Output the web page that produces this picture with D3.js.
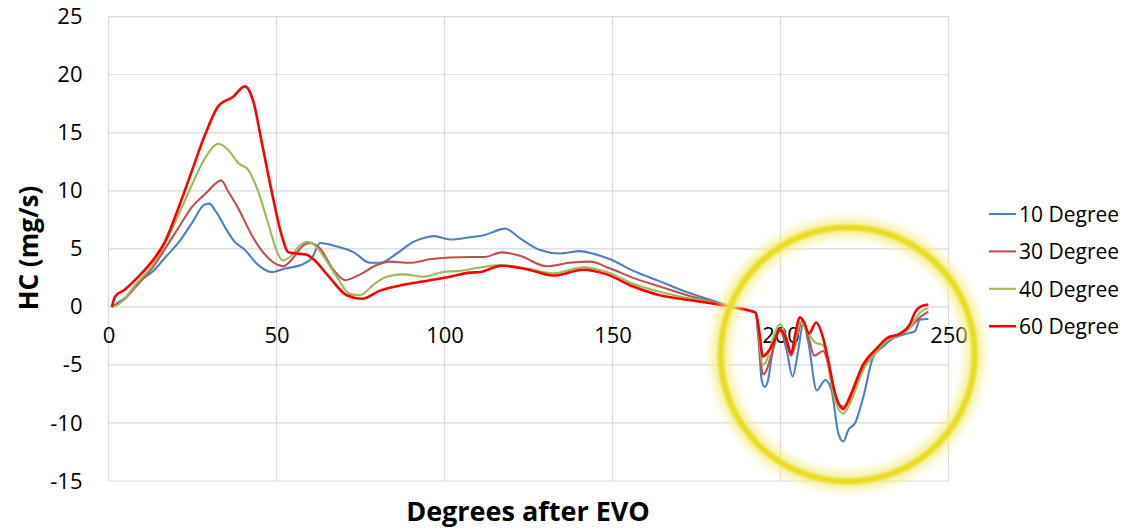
<!DOCTYPE html>
<html>
<head>
<meta charset="utf-8">
<script src="https://cdn.jsdelivr.net/npm/d3@7"></script>
<style>
  html, body { margin: 0; padding: 0; background: #fff; }
  svg text { font-family: "Open Sans", "DejaVu Sans", sans-serif; fill: #000; }
</style>
</head>
<body>
<div id="chart"></div>
<script>
/* data: [degrees after EVO, HC mg/s] */
const seriesNames = ["10 Degree", "30 Degree", "40 Degree", "60 Degree"];
const seriesColors = ["#4f81bd", "#c0504d", "#9bbb59", "#ff0000"];

const deg10 = [[1,0],[3,0.4],[5,0.8],[9,2.2],[13,3.0],[17,4.3],[21,5.6],[25,7.3],[28.5,8.8],[30,8.9],[32,8.2],[35,6.7],
  [37.6,5.6],[40.6,4.9],[44.6,3.6],[48.5,3.0],[52.5,3.3],[58,3.7],[60.5,4.2],[63,5.5],[68,5.2],[73,4.7],[77.8,3.8],
  [80.8,3.8],[85.8,4.6],[90.7,5.6],[94.7,6.0],[97,6.1],[101.6,5.8],[107.6,6.0],[112,6.2],[117,6.7],[118,6.75],
  [122.5,5.9],[128.4,4.9],[134.4,4.6],[140.3,4.8],[144,4.6],[149.3,4.1],[156.2,3.1],[164.1,2.2],[170,1.5],[176,0.9],
  [186,0.0],[192.5,-0.5],[193.5,-3.0],[194.4,-6.3],[195.3,-6.9],[196.3,-6.3],[197.4,-4.3],[199.9,-2.0],[201.8,-3.7],
  [203.6,-6.0],[205.3,-3.7],[206.8,-1.4],[208.3,-3.1],[210.8,-7.2],[213.3,-6.3],[215.2,-7.2],[217.2,-10.9],
  [218.7,-11.6],[220.2,-10.6],[222.2,-10.0],[224.7,-7.7],[227.6,-4.3],[230.6,-3.4],[233.6,-2.7],[237.6,-2.3],
  [240,-2.1],[241.5,-1.1],[244,-1.05]];

const deg30 = [[1,0],[3.9,0.45],[8.9,2.0],[12.9,3.3],[16.8,5.0],[20.8,6.8],[24.8,8.6],[28.7,9.7],[32.7,10.8],
  [33.5,10.9],[35.7,9.9],[38.6,8.5],[42.6,6.2],[46.6,4.5],[50.5,3.6],[52,3.5],[54,3.9],[58,5.3],[60,5.5],[62.9,5.05],
  [66.9,3.2],[70.4,2.3],[74.9,2.8],[79.8,3.6],[83.8,3.9],[89.7,3.8],[95.7,4.1],[101.6,4.25],[107.6,4.3],[112,4.3],
  [117,4.7],[122.5,4.4],[130.4,3.5],[137.2,3.8],[143.3,3.9],[149.3,3.3],[156.2,2.5],[164.1,1.75],[170,1.2],[176,0.7],
  [186,0.0],[192.6,-0.5],[193.8,-3.5],[194.7,-5.8],[195.6,-5.6],[197.4,-4.0],[199.9,-1.9],[201.5,-2.8],[203.2,-4.2],
  [205,-2.5],[206.5,-1.2],[208.5,-2.8],[210,-4.2],[212.7,-3.8],[213.8,-4.5],[215.7,-7.3],[218.7,-8.6],[220.7,-8.0],
  [224.7,-5.2],[228.6,-3.9],[231.6,-2.9],[235.6,-2.4],[238.5,-1.8],[241.5,-0.9],[244,-0.4]];

const deg40 = [[1,0],[2.9,0.2],[4.9,0.75],[8.9,2.2],[12.9,3.5],[16.8,5.5],[20.8,7.9],[24.8,10.5],[28.7,12.8],
  [32.7,14.05],[35.7,13.5],[38.6,12.4],[41.6,11.8],[44.6,9.9],[47.6,7.1],[50.1,4.8],[51.8,4.0],[54,4.3],[57,5.3],
  [59,5.6],[60.5,5.5],[62.9,4.8],[67.9,2.6],[71.9,1.1],[74.9,1.0],[78.8,1.9],[82.8,2.6],[87.7,2.8],[93.7,2.6],
  [99.6,3.0],[104.6,3.1],[110.6,3.4],[116.5,3.6],[124.5,3.3],[132.4,2.9],[141.3,3.4],[148.3,3.0],[156.2,2.0],
  [164.1,1.3],[170,0.9],[176,0.6],[186,0.0],[192.6,-0.5],[193.8,-3.0],[194.6,-5.0],[195.6,-4.8],[197.4,-3.0],
  [200,-1.5],[201.5,-2.5],[203.1,-3.9],[204.8,-2.3],[206,-1.3],[208.3,-2.3],[210.5,-3.1],[212.7,-3.3],[213.8,-4.2],
  [215.7,-7.4],[218.7,-9.2],[220.7,-8.3],[224.7,-5.4],[228.6,-3.9],[231.6,-2.9],[235.6,-2.4],[238.5,-1.8],
  [241.5,-0.5],[244,-0.1]];

const deg60 = [[1,0],[2,0.9],[4.9,1.5],[8.9,2.6],[12.9,3.9],[16.8,5.6],[20.8,8.5],[24.8,11.7],[28.7,14.8],
  [32.7,17.3],[37.1,18.1],[40.6,19.0],[43.1,17.7],[45.6,14.2],[48.6,9.9],[51.5,6.2],[53.5,4.7],[56,4.6],[59,4.5],
  [61,4.1],[65.9,2.5],[70.9,1.0],[75.4,0.7],[80.8,1.4],[87.7,1.9],[95.7,2.3],[101.6,2.6],[107.6,2.95],[110.6,3.0],
  [117,3.55],[124.5,3.25],[132.4,2.7],[141.3,3.2],[148.3,2.8],[156.2,1.75],[164.1,1.0],[170,0.7],[176,0.45],
  [186,-0.05],[192.6,-0.5],[193.9,-2.6],[194.7,-4.3],[195.9,-4.0],[197.4,-3.4],[199.9,-2.0],[201.5,-2.6],
  [203.2,-4.0],[204.5,-2.2],[205.7,-0.9],[207,-1.3],[208.5,-2.3],[210.6,-1.35],[212.7,-2.7],[214.2,-4.6],
  [216.2,-7.4],[218.7,-8.8],[220.7,-7.7],[224.7,-4.9],[228.6,-3.6],[231.6,-2.7],[235.6,-2.3],[238.5,-1.5],
  [240,-0.5],[241.5,0.0],[244,0.2]];

const allSeries = [deg10, deg30, deg40, deg60];

const xTicks = [0, 50, 100, 150, 200, 250];
const yTicks = [-15, -10, -5, 0, 5, 10, 15, 20, 25];

/* highlight ring around the 190-245 region (centre in data units) */
const ringCenter = [220, -4.1];

/* layout */
const width = 1129, height = 529;
const plot = { left: 108.5, right: 948.5, top: 16.7, bottom: 481 };

const svg = d3.select("#chart").append("svg")
  .attr("width", width)
  .attr("height", height)
  .attr("viewBox", `0 0 ${width} ${height}`);

svg.append("rect").attr("width", width).attr("height", height).attr("fill", "#fff");

const x = d3.scaleLinear().domain([0, 250]).range([plot.left, plot.right]);
const y = d3.scaleLinear().domain([-15, 25]).range([plot.bottom, plot.top]);

/* gridlines */
const grid = svg.append("g").attr("class", "grid");
grid.selectAll("line.h").data(yTicks).enter().append("line")
  .attr("class", "h")
  .attr("x1", plot.left).attr("x2", plot.right)
  .attr("y1", d => y(d)).attr("y2", d => y(d))
  .attr("stroke", "#d9d9d9").attr("stroke-width", 1.2);
grid.selectAll("line.v").data(xTicks).enter().append("line")
  .attr("class", "v")
  .attr("x1", d => x(d)).attr("x2", d => x(d))
  .attr("y1", plot.top).attr("y2", plot.bottom)
  .attr("stroke", "#d9d9d9").attr("stroke-width", 1.2);

/* plain hyphen minus, like the original */
const fmt = d => String(d);

/* y axis labels */
const yAxis = d3.axisLeft(y).tickValues(yTicks).tickFormat(fmt).tickSize(0).tickPadding(26);
const yAxisG = svg.append("g").attr("transform", `translate(${plot.left},0)`).call(yAxis);
yAxisG.select(".domain").remove();
yAxisG.selectAll("text")
  .style("font-family", '"Open Sans", sans-serif')
  .style("font-size", "22px").attr("fill", "#000");

/* x axis labels sit just under the zero line */
const xAxis = d3.axisBottom(x).tickValues(xTicks).tickFormat(fmt).tickSize(0).tickPadding(21);
const xAxisG = svg.append("g").attr("transform", `translate(0,${y(0)})`).call(xAxis);
xAxisG.select(".domain").remove();
xAxisG.selectAll("text")
  .style("font-family", '"Open Sans", sans-serif')
  .style("font-size", "22px").attr("fill", "#000");

/* series */
const line = d3.line()
  .x(d => x(d[0]))
  .y(d => y(d[1]))
  .curve(d3.curveMonotoneX);

svg.append("g").selectAll("path").data(allSeries).enter().append("path")
  .attr("d", line)
  .attr("fill", "none")
  .attr("stroke", (d, i) => seriesColors[i])
  .attr("stroke-width", (d, i) => i === 3 ? 2.6 : 2.1)
  .attr("stroke-linejoin", "round");

/* glowing yellow ring */
const defs = svg.append("defs");
defs.append("filter").attr("id", "glow")
  .attr("x", "-30%").attr("y", "-30%").attr("width", "160%").attr("height", "160%")
  .append("feGaussianBlur").attr("stdDeviation", 4.5);
defs.append("filter").attr("id", "soft")
  .append("feGaussianBlur").attr("stdDeviation", 0.8);

const ring = svg.append("g");
ring.append("circle")
  .attr("cx", x(ringCenter[0])).attr("cy", y(ringCenter[1])).attr("r", 127)
  .attr("fill", "none").attr("stroke", "#f4ee8c").attr("stroke-width", 18)
  .attr("opacity", 0.85)
  .attr("filter", "url(#glow)");
ring.append("circle")
  .attr("cx", x(ringCenter[0])).attr("cy", y(ringCenter[1])).attr("r", 127)
  .attr("fill", "none").attr("stroke", "#e9dc22").attr("stroke-width", 6)
  .attr("filter", "url(#soft)");

/* axis titles */
svg.append("text")
  .attr("transform", "translate(28,248) rotate(-90)")
  .attr("text-anchor", "middle").attr("dominant-baseline", "central")
  .style("font-size", "26px").style("font-weight", "bold")
  .text("HC (mg/s)");

svg.append("text")
  .attr("x", 528).attr("y", 510)
  .attr("text-anchor", "middle").attr("dominant-baseline", "central")
  .style("font-size", "27px").style("font-weight", "bold")
  .text("Degrees after EVO");

/* legend */
const legend = svg.append("g").attr("transform", "translate(989,214)");
const rows = legend.selectAll("g").data(seriesNames).enter().append("g")
  .attr("transform", (d, i) => `translate(0,${i * 37.4})`);
rows.append("line")
  .attr("x1", 0).attr("x2", 27)
  .attr("stroke", (d, i) => seriesColors[i])
  .attr("stroke-width", (d, i) => i === 3 ? 2.6 : 2.1);
rows.append("text")
  .attr("x", 30)
  .attr("dominant-baseline", "central")
  .style("font-size", "21px")
  .text(d => d);
</script>
</body>
</html>
